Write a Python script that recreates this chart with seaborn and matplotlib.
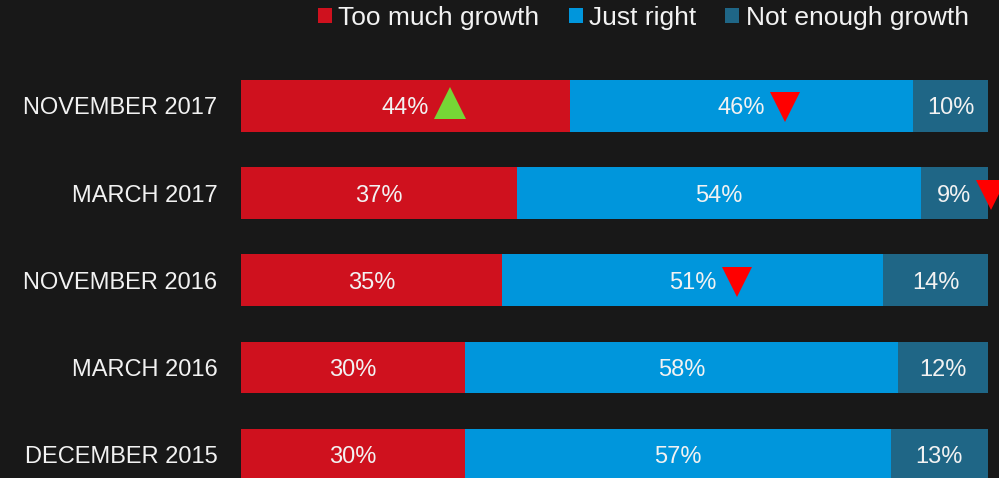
import matplotlib
matplotlib.use("Agg")
import matplotlib.pyplot as plt
from matplotlib.patches import Patch
import seaborn as sns
import pandas as pd

# Survey waves, top to bottom
periods = ["NOVEMBER 2017", "MARCH 2017", "NOVEMBER 2016", "MARCH 2016", "DECEMBER 2015"]
series = ["Too much growth", "Just right", "Not enough growth"]

too_much = [44, 37, 35, 30, 30]
just_right = [46, 54, 51, 58, 57]
not_enough = [10, 9, 14, 12, 13]

# Change indicators versus the previous wave: (period, series, direction)
changes = [
    ("NOVEMBER 2017", "Too much growth", "up"),
    ("NOVEMBER 2017", "Just right", "down"),
    ("MARCH 2017", "Not enough growth", "down"),
    ("NOVEMBER 2016", "Just right", "down"),
]

colors = {"Too much growth": "#CF111E", "Just right": "#0096DC", "Not enough growth": "#1F6686"}
bg = "#181818"
text_color = "#F2F2F2"

df = pd.DataFrame({"period": periods, "Too much growth": too_much,
                   "Just right": just_right, "Not enough growth": not_enough})
df["start_just"] = df["Too much growth"]
df["start_not"] = df["Too much growth"] + df["Just right"]
df["cum_just"] = df["start_not"]
df["cum_not"] = df["start_not"] + df["Not enough growth"]

plt.rcParams["font.family"] = ["Liberation Sans", "DejaVu Sans"]

fig = plt.figure(figsize=(9.99, 4.78), dpi=100, facecolor=bg)
ax = fig.add_axes([241 / 999, 0, 1 - 241 / 999, 1])
ax.set_facecolor(bg)

bar_w = 0.593
# Stacked bars: draw cumulative totals back to front
sns.barplot(data=df, x="cum_not", y="period", order=periods, orient="h",
            color=colors["Not enough growth"], saturation=1, width=bar_w, ax=ax)
sns.barplot(data=df, x="cum_just", y="period", order=periods, orient="h",
            color=colors["Just right"], saturation=1, width=bar_w, ax=ax)
sns.barplot(data=df, x="Too much growth", y="period", order=periods, orient="h",
            color=colors["Too much growth"], saturation=1, width=bar_w, ax=ax)

ax.set_xlim(0, 101.5)
ax.set_ylim(4.266, -1.2126)
ax.set_xlabel("")
ax.set_ylabel("")
ax.set_xticks([])
for s in ax.spines.values():
    s.set_visible(False)
ax.tick_params(axis="y", length=0, pad=17, labelsize=17, labelcolor=text_color)

# Percentage labels centred in each segment
labels = {}
starts = {"Too much growth": [0] * len(periods),
          "Just right": list(df["start_just"]),
          "Not enough growth": list(df["start_not"])}
values = {"Too much growth": too_much, "Just right": just_right, "Not enough growth": not_enough}
for name in series:
    for i, p in enumerate(periods):
        v = values[name][i]
        cx = starts[name][i] + v / 2
        labels[(p, name)] = ax.text(cx, i, f"{v}%", ha="center", va="center_baseline",
                                    fontsize=17, color=text_color)

# Trend triangles placed just right of their labels
fig.canvas.draw()
renderer = fig.canvas.get_renderer()
px = fig.dpi / 100
for p, name, direction in changes:
    t = labels[(p, name)]
    bb = t.get_window_extent(renderer)
    i = periods.index(p)
    yd = ax.transData.transform((0, i))[1]
    if direction == "up":
        size_pt, half_px, dy, marker, col = 23.5, 16.5, 3, "^", "#76D636"
    else:
        size_pt, half_px, dy, marker, col = 21.5, 15, -1.5, "v", "#FF0000"
    xd = bb.x1 + (5 + half_px) * px
    x, y = ax.transData.inverted().transform((xd, yd + dy * px))
    ax.plot([x], [y], marker=marker, markersize=size_pt, color=col,
            markeredgewidth=0, linestyle="none", clip_on=False)

handles = [Patch(facecolor=colors[n], edgecolor="none") for n in series]
fig.legend(handles, series, loc="center right", bbox_to_anchor=(969 / 999, 1 - 18 / 478),
           ncol=3, frameon=False, fontsize=19, labelcolor=text_color,
           handlelength=0.53, handleheight=0.5, handletextpad=0.25, columnspacing=1.1,
           borderpad=0, borderaxespad=0)

fig.savefig("out.png", dpi=100, facecolor=bg)
